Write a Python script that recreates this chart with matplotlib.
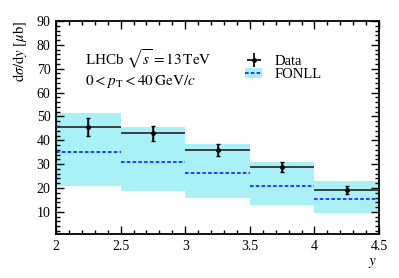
import matplotlib
matplotlib.use("Agg")
import matplotlib.pyplot as plt
import numpy as np
from matplotlib.ticker import MultipleLocator
from matplotlib.lines import Line2D
from matplotlib.patches import Patch

plt.rcParams['font.family'] = ['Liberation Serif', 'DejaVu Serif']
plt.rcParams['mathtext.fontset'] = 'stix'

bin_edges = [2.0, 2.5, 3.0, 3.5, 4.0, 4.5]
data_vals = [45.5, 42.9, 36.1, 28.9, 19.2]
data_errs = [3.7, 3.0, 2.5, 2.0, 1.6]
fonll_central = [35.2, 31.0, 26.1, 21.0, 15.6]
fonll_upper = [51.4, 45.4, 38.5, 30.7, 22.9]
fonll_lower = [20.8, 18.7, 15.8, 12.9, 9.7]

fig = plt.figure(figsize=(3.99, 2.78), dpi=100)
ax = fig.add_axes([0.1404, 0.158, 0.8096, 0.7665])

edges = np.array(bin_edges)
lo = edges[:-1]
hi = edges[1:]
mid = 0.5 * (lo + hi)

band_color = '#a8f1f6'
line_color = '#2030ff'
for i in range(len(data_vals)):
    ax.fill_between([lo[i], hi[i]], [fonll_lower[i]] * 2, [fonll_upper[i]] * 2,
                    color=band_color, linewidth=0, zorder=1)
    ax.plot([lo[i], hi[i]], [fonll_central[i]] * 2, color=line_color,
            linestyle=(0, (2, 1.2)), linewidth=1.3, zorder=2)

ax.errorbar(mid, data_vals, yerr=data_errs, xerr=0.25, fmt='o', color='black',
            ecolor='#333333', markersize=2.5, elinewidth=1.3, capsize=0, zorder=3)
ax.errorbar(mid, data_vals, yerr=data_errs, fmt='none', ecolor='black',
            elinewidth=1.0, capsize=1.5, capthick=1.0, zorder=4)

ax.set_xlim(2, 4.5)
ax.set_ylim(0.7, 90)
ax.xaxis.set_minor_locator(MultipleLocator(0.1))
ax.yaxis.set_minor_locator(MultipleLocator(2))
ax.set_xticks([2, 2.5, 3, 3.5, 4, 4.5])
ax.set_xticklabels(['2', '2.5', '3', '3.5', '4', '4.5'])
ax.set_yticks([10, 20, 30, 40, 50, 60, 70, 80, 90])

ax.tick_params(which='both', direction='in', top=True, right=True,
               labelsize=10, width=1.0)
ax.tick_params(which='major', length=6, pad=4)
ax.tick_params(which='minor', length=3)
for s in ax.spines.values():
    s.set_linewidth(1.3)

ax.set_ylabel(r'$\mathrm{d}\sigma/\mathrm{d}y\ [\mu\mathrm{b}]$', fontsize=10.5)
ax.yaxis.set_label_coords(-0.085, 1.0)
ax.yaxis.label.set_ha('right')
ax.set_xlabel(r'$y$', fontsize=11)
ax.xaxis.set_label_coords(0.98, -0.105)

ax.text(0.09, 0.82, r'LHCb $\sqrt{s} = 13\,\mathrm{TeV}$', transform=ax.transAxes,
        fontsize=11, va='center', ha='left')
ax.text(0.09, 0.715, r'$0 < p_{\mathrm{T}} < 40\,\mathrm{GeV}/c$', transform=ax.transAxes,
        fontsize=11, va='center', ha='left')

h_data = Line2D([], [], color='black', marker='o', markersize=2.5, linestyle='none')
h_data_err = Line2D([0], [0], color='black', marker='+', markersize=10, markeredgewidth=1.2,
                    linestyle='none')
h_fonll_band = Patch(facecolor=band_color, edgecolor='none')
h_fonll_line = Line2D([], [], color=line_color, linestyle=(0, (2, 1.2)), linewidth=1.3)
leg = ax.legend([(h_data_err, h_data), (h_fonll_band, h_fonll_line)], ['Data', 'FONLL'],
                loc='upper left', bbox_to_anchor=(0.585, 0.84), frameon=False,
                fontsize=10.5, handlelength=1.2, handletextpad=0.8, labelspacing=0.0,
                borderaxespad=0, borderpad=0)

fig.savefig('out.png', dpi=100)
